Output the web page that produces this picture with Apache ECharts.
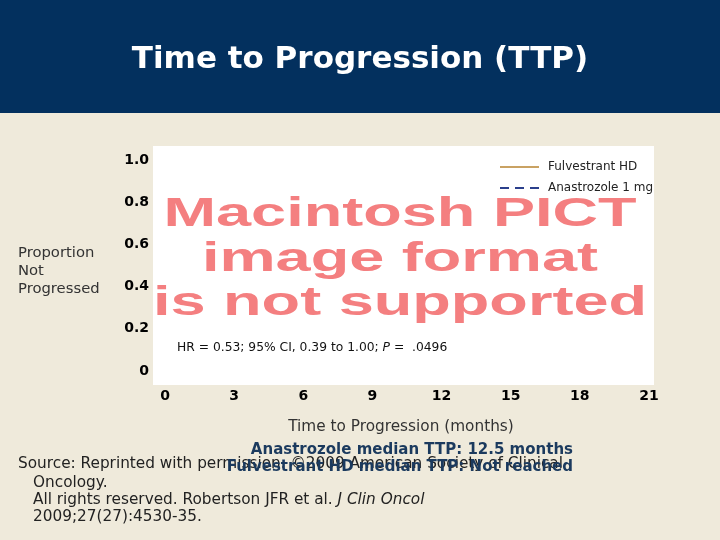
<!DOCTYPE html>
<html>
<head>
<meta charset="utf-8">
<script src="https://cdn.jsdelivr.net/npm/echarts@6/dist/echarts.min.js"></script>
<style>html,body{margin:0;padding:0;background:#efeadb;}#chart{width:720px;height:540px;}</style>
</head>
<body>
<div id="chart"></div>
<script>
// ---- data (the reference shows only the empty survival plot frame; no curves are drawn) ----
var seriesNames = ['Fulvestrant HD', 'Anastrozole 1 mg'];
var fulvestrantHD = [];
var anastrozole1mg = [];
var xTickMin = 0, xTickMax = 21, xTickStep = 3;
var yTickMin = 0, yTickMax = 1, yTickStep = 0.2;
var titleText = 'Time to Progression (TTP)';
var xAxisTitle = 'Time to Progression (months)';
var yAxisTitle = 'Proportion\nNot\nProgressed';
var hrText = 'HR = 0.53; 95% CI, 0.39 to 1.00; {i|P} =  .0496';
var pictLines = ['Macintosh PICT', 'image format', 'is not supported'];
var medianLines = ['Anastrozole median TTP: 12.5 months', 'Fulvestrant HD median TTP: Not reached'];
var sourceLines = ['Source: Reprinted with permission. \u00a92009 American Society of Clinical',
                   'Oncology.',
                   'All rights reserved. Robertson JFR et al. {i|J Clin Oncol}',
                   '2009;27(27):4530-35.'];

var FONT = '"DejaVu Sans", Verdana, sans-serif';
var chart = echarts.init(document.getElementById('chart'), null, {renderer: 'canvas'});

var graphics = [
  {type: 'rect', z: -10, shape: {x: 0, y: 0, width: 720, height: 113}, style: {fill: '#03305e'}},
  {type: 'rect', z: -10, shape: {x: 153, y: 146, width: 501, height: 239}, style: {fill: '#ffffff'}},
  {type: 'text', z: 2, x: 18, y: 271,
   style: {text: yAxisTitle, fill: '#333', font: '14.8px ' + FONT, lineHeight: 18,
           textAlign: 'left', textVerticalAlign: 'middle'}}
];
var pictY = [215, 259.5, 304];
pictLines.forEach(function (t, i) {
  graphics.push({type: 'text', z: 1, x: 400, y: pictY[i], scaleX: 1.577, scaleY: 1,
    style: {text: t, fill: '#f47f80', font: 'bold 40px "Liberation Sans", Arial, sans-serif',
            textAlign: 'center', textVerticalAlign: 'middle'}});
});
graphics.push({type: 'text', z: 2, x: 177, y: 348,
  style: {text: hrText, fill: '#111', font: '12.3px ' + FONT, textAlign: 'left', textVerticalAlign: 'middle',
          rich: {i: {font: 'italic 12.3px ' + FONT, fill: '#111'}}}});
var medY = [450, 467];
medianLines.forEach(function (t, i) {
  graphics.push({type: 'text', z: 3, x: 573, y: medY[i],
    style: {text: t, fill: '#1b3a5e', font: 'bold 15px ' + FONT, textAlign: 'right', textVerticalAlign: 'middle'}});
});
var srcY = [464, 483, 500, 517];
var srcX = [18, 33, 33, 33];
sourceLines.forEach(function (t, i) {
  graphics.push({type: 'text', z: 2, x: srcX[i], y: srcY[i],
    style: {text: t, fill: '#222', font: '15.3px ' + FONT, textAlign: 'left', textVerticalAlign: 'middle',
            rich: {i: {font: 'italic 15.3px ' + FONT, fill: '#222'}}}});
});

var option = {
  backgroundColor: '#efeadb',
  animation: false,
  title: {
    text: titleText, left: 'center', top: 44, padding: 0,
    textStyle: {color: '#ffffff', fontSize: 31, fontWeight: 'bold', fontFamily: FONT}
  },
  legend: {
    orient: 'vertical', left: 499, top: 161, padding: 0, itemGap: 9,
    itemWidth: 39, itemHeight: 14,
    textStyle: {fontSize: 12, color: '#222', fontFamily: FONT, padding: [0, 0, 0, 4]},
    itemStyle: {opacity: 0},
    data: seriesNames
  },
  grid: {left: 165, right: 71, top: 160, bottom: 169, containLabel: false},
  xAxis: {
    type: 'value', min: xTickMin, max: xTickMax, interval: xTickStep,
    axisLine: {show: false}, axisTick: {show: false}, splitLine: {show: false},
    axisLabel: {margin: 18, fontSize: 14, fontWeight: 'bold', color: '#000', fontFamily: FONT},
    name: xAxisTitle, nameLocation: 'middle', nameGap: 49,
    nameTextStyle: {fontSize: 15.3, color: '#333', fontFamily: FONT, padding: [0, 12, 0, 0]}
  },
  yAxis: {
    type: 'value', min: yTickMin, max: yTickMax, interval: yTickStep,
    axisLine: {show: false}, axisTick: {show: false}, splitLine: {show: false},
    axisLabel: {margin: 16, fontSize: 14, fontWeight: 'bold', color: '#000', fontFamily: FONT,
      formatter: function (v) { return v === 0 ? '0' : v.toFixed(1); }}
  },
  series: [
    {name: seriesNames[0], type: 'line', data: fulvestrantHD, symbol: 'none', step: 'end',
     lineStyle: {color: '#c9a263', width: 2, type: 'solid'},
     itemStyle: {color: '#c9a263', opacity: 0}},
    {name: seriesNames[1], type: 'line', data: anastrozole1mg, symbol: 'none', step: 'end',
     lineStyle: {color: '#2b3f8c', width: 2, type: [9, 6]},
     itemStyle: {color: '#2b3f8c', opacity: 0}}
  ],
  graphic: {elements: graphics}
};
chart.setOption(option);
</script>
</body>
</html>
